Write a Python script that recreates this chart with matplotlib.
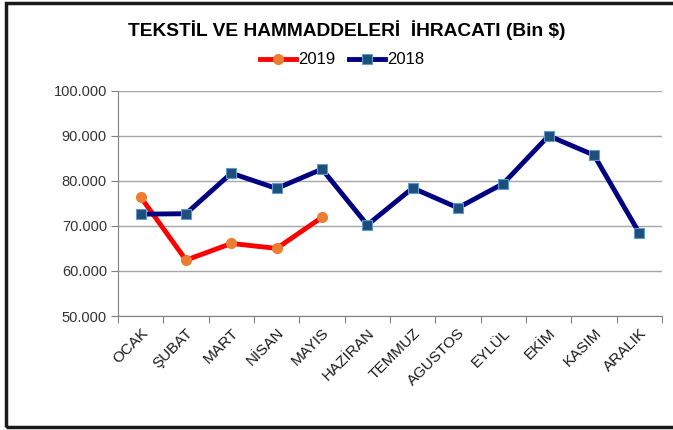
import matplotlib
matplotlib.use("Agg")
import matplotlib.pyplot as plt
from matplotlib.patches import Rectangle
from matplotlib.ticker import FuncFormatter, FixedLocator
import numpy as np

plt.rcParams['font.family'] = ['Liberation Sans', 'DejaVu Sans']

months = ["OCAK", "ŞUBAT", "MART", "NİSAN", "MAYIS", "HAZİRAN", "TEMMUZ",
          "AGUSTOS", "EYLÜL", "EKİM", "KASIM", "ARALIK"]
v2019 = [76400, 62400, 66100, 65000, 71900]
v2018 = [72600, 72700, 81700, 78300, 82600, 70200, 78400, 74000, 79400, 90000, 85700, 68400]

fig = plt.figure(figsize=(6.73, 4.30), dpi=100)
ax = fig.add_axes([118/673, 1-316/430, (662-118)/673, (316-90.7)/430])

x18 = np.arange(len(v2018))
x19 = np.arange(len(v2019))
l19, = ax.plot(x19, v2019, color='#FF0000', lw=3.5, marker='o', ms=7,
               mfc='#ED7D31', mec='#ED7D31', label='2019', zorder=3)
l18, = ax.plot(x18, v2018, color='#000080', lw=3.5, marker='s', ms=7,
               mfc='#1F4E79', mec='#5B9BD5', mew=0.8, label='2018', zorder=4)

ax.set_xlim(-0.5, 11.5)
ax.set_ylim(50000, 100000)
ax.set_yticks(np.arange(50000, 100001, 10000))
ax.yaxis.set_major_formatter(FuncFormatter(lambda v, p: f"{int(v):,}".replace(",", ".")))
ax.grid(axis='y', color='#A6A6A6', lw=1)
ax.set_axisbelow(True)
for s in ['top', 'right']:
    ax.spines[s].set_visible(False)
for s in ['left', 'bottom']:
    ax.spines[s].set_color('#808080')
ax.tick_params(axis='y', direction='out', length=5, color='#808080', labelsize=10.5,
               labelcolor='#333333', pad=3)
ax.xaxis.set_major_locator(FixedLocator(np.arange(-0.5, 12, 1)))
ax.tick_params(axis='x', which='major', direction='out', length=5, color='#808080', labelbottom=False)
ax.set_xticks(x18, minor=True)
ax.tick_params(axis='x', which='minor', length=0, pad=7)
ax.set_xticklabels(months, minor=True, rotation=45, ha='right', rotation_mode='anchor',
                   fontsize=11, color='#1a1a1a')

fig.text(347/673, 1-30/430, "TEKSTİL VE HAMMADDELERİ  İHRACATI (Bin $)", ha='center', va='center',
         fontsize=13.8, fontweight='bold')
fig.legend(handles=[l19, l18], loc='center', bbox_to_anchor=(342/673, 1-60/430), ncol=2,
           frameon=False, fontsize=12, handlelength=2.2, columnspacing=0.8, handletextpad=0.1)

fig.patches.append(Rectangle((6/673, 3/430), 1.2, 1-6/430, transform=fig.transFigure,
                             fill=False, ec='#1a1a1a', lw=2.5))

fig.savefig("out.png", dpi=100)
